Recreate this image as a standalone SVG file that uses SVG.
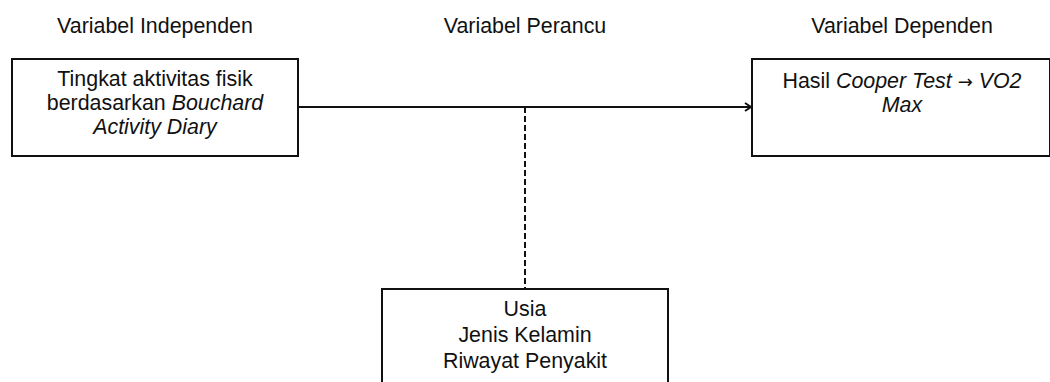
<svg xmlns="http://www.w3.org/2000/svg" width="1050" height="382" viewBox="0 0 1050 382">
<defs>
<style>
text{font-family:"Liberation Sans",Arial,sans-serif;font-size:21.4px;fill:#111;text-anchor:middle}
.i{font-style:italic}
.sym{font-family:"DejaVu Sans",sans-serif;font-size:18px}
.box{fill:#fff;stroke:#111;stroke-width:2}
.conn{stroke:#111;stroke-width:2;fill:none}
</style>
<marker id="arr" markerWidth="10" markerHeight="10" refX="8" refY="5" orient="auto" markerUnits="userSpaceOnUse">
<path d="M2,1 L8,5 L2,9" fill="none" stroke="#111" stroke-width="2"/>
</marker>
</defs>
<rect width="1050" height="382" fill="#fff"/>
<g id="headers">
<text x="155" y="33">Variabel Independen</text>
<text x="525" y="33">Variabel Perancu</text>
<text x="902" y="33">Variabel Dependen</text>
</g>
<g id="connectors">
<line class="conn" x1="298" y1="107" x2="751" y2="107" marker-end="url(#arr)"/>
<line class="conn" x1="525" y1="107" x2="525" y2="288" stroke-dasharray="6,3"/>
</g>
<g id="node-independen">
<rect class="box" x="12" y="59" width="286" height="97"/>
<text x="155" y="86">Tingkat aktivitas fisik</text>
<text x="155" y="110">berdasarkan <tspan class="i">Bouchard</tspan></text>
<text x="155" y="134" class="i">Activity Diary</text>
</g>
<g id="node-dependen">
<rect class="box" x="752" y="59" width="298" height="97"/>
<text x="902" y="88">Hasil <tspan class="i">Cooper Test</tspan> <tspan class="sym">→</tspan> <tspan class="i">VO2</tspan></text>
<text x="902" y="112" class="i">Max</text>
</g>
<g id="node-perancu">
<rect class="box" x="382" y="289" width="286" height="110"/>
<text x="525" y="316">Usia</text>
<text x="525" y="342">Jenis Kelamin</text>
<text x="525" y="368">Riwayat Penyakit</text>
</g>
</svg>
